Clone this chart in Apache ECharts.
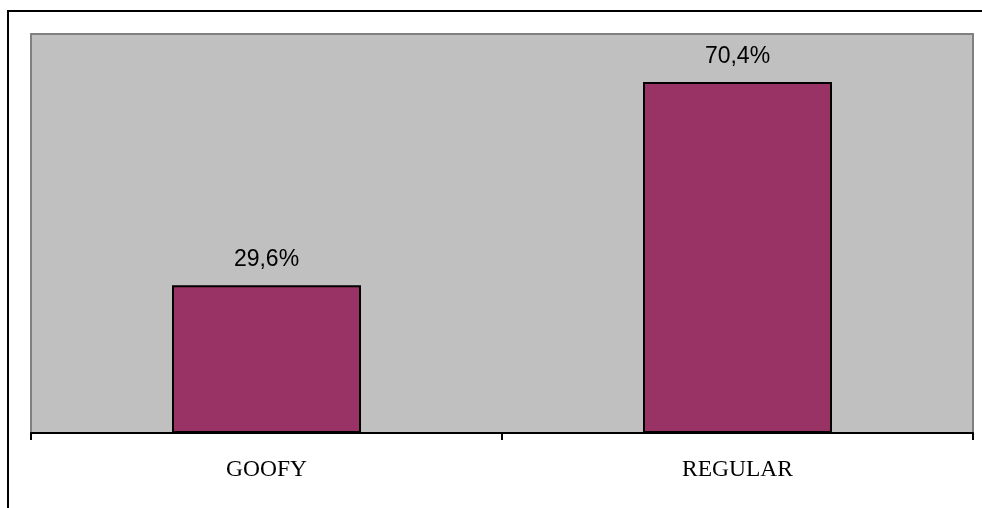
<!DOCTYPE html>
<html>
<head>
<meta charset="utf-8">
<style>
  html, body { margin: 0; padding: 0; background: #ffffff; }
  #chart { width: 982px; height: 508px; }
</style>
<script src="https://cdn.jsdelivr.net/npm/echarts@6/dist/echarts.min.js"></script>
</head>
<body>
<div id="chart"></div>
<script>
// Stance shares (percent)
const categories = ['GOOFY', 'REGULAR'];
const shares = [29.6, 70.4];

const chart = echarts.init(document.getElementById('chart'), null, { renderer: 'canvas' });

const fmt = v => v.toFixed(1).replace('.', ',') + '%';

chart.setOption({
  animation: false,
  backgroundColor: '#ffffff',
  graphic: [{
    type: 'rect',
    shape: { x: 8, y: 11, width: 1000, height: 600 },
    style: { fill: 'none', stroke: '#000000', lineWidth: 2 },
    silent: true
  }],
  grid: {
    left: 31, right: 9, top: 34, bottom: 75,
    show: true,
    backgroundColor: '#c0c0c0',
    borderColor: '#808080',
    borderWidth: 2
  },
  xAxis: {
    type: 'category',
    data: categories,
    axisLine: { show: true, lineStyle: { color: '#000000', width: 2 } },
    axisTick: { show: true, length: 7, lineStyle: { color: '#000000', width: 2 } },
    axisLabel: {
      color: '#000000',
      fontFamily: '"Liberation Serif", "Times New Roman", serif',
      fontSize: 23.5,
      margin: 25
    },
    splitLine: { show: false }
  },
  yAxis: {
    type: 'value',
    min: 0,
    max: 80,
    show: false,
    splitLine: { show: false }
  },
  series: [{
    type: 'bar',
    data: shares,
    barWidth: 189,
    itemStyle: { color: '#993366', borderColor: '#000000', borderWidth: 2 },
    label: {
      show: true,
      position: 'top',
      distance: 14,
      color: '#000000',
      fontFamily: '"Liberation Sans", Arial, sans-serif',
      fontSize: 23,
      formatter: p => fmt(p.value)
    }
  }]
});
</script>
</body>
</html>
